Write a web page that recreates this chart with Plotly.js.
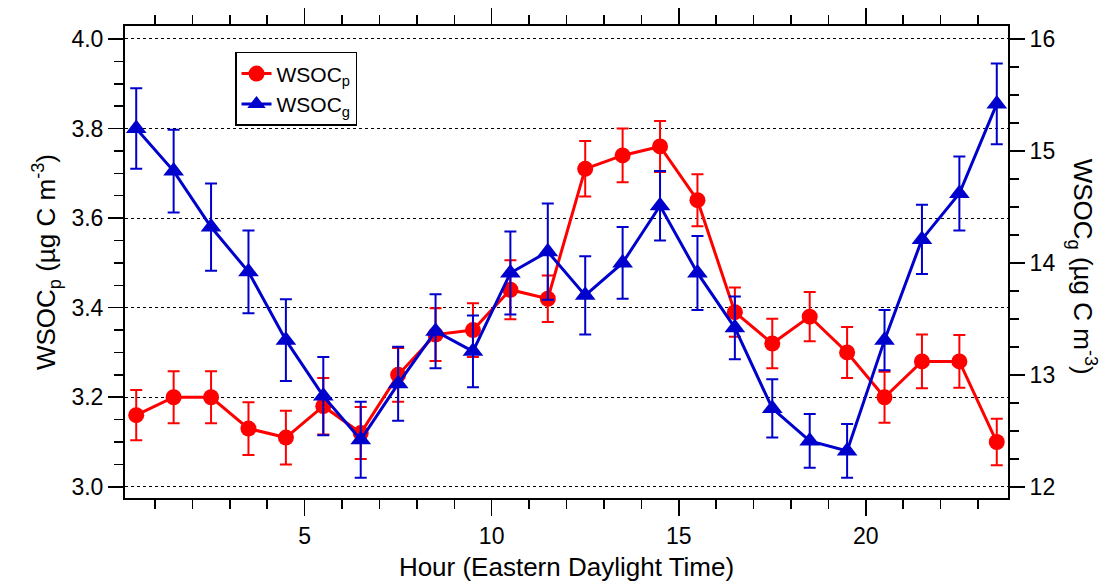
<!DOCTYPE html>
<html>
<head>
<meta charset="utf-8">
<script src="https://cdn.plot.ly/plotly-3.0.1.min.js"></script>
<style>html,body{margin:0;padding:0;background:#fff;}#chart{width:1109px;height:587px;}</style>
</head>
<body>
<div id="chart"></div>
<script>
const hours = [0.5,1.5,2.5,3.5,4.5,5.5,6.5,7.5,8.5,9.5,10.5,11.5,12.5,13.5,14.5,15.5,16.5,17.5,18.5,19.5,20.5,21.5,22.5,23.5];
const wsocP = [3.16,3.20,3.20,3.13,3.11,3.18,3.12,3.25,3.34,3.35,3.44,3.42,3.71,3.74,3.76,3.64,3.39,3.32,3.38,3.30,3.20,3.28,3.28,3.10];
const wsocPErr = [0.056,0.058,0.058,0.059,0.060,0.063,0.058,0.060,0.059,0.060,0.066,0.052,0.062,0.060,0.057,0.058,0.055,0.055,0.055,0.057,0.057,0.060,0.059,0.052];
const wsocG = [15.20,14.82,14.32,13.92,13.31,12.81,12.42,12.92,13.39,13.21,13.91,14.10,13.71,14.00,14.51,13.91,13.42,12.70,12.41,12.32,13.31,14.21,14.62,15.42];
const wsocGErr = [0.36,0.37,0.39,0.37,0.365,0.35,0.34,0.33,0.33,0.32,0.37,0.43,0.35,0.32,0.31,0.33,0.28,0.26,0.24,0.24,0.27,0.31,0.33,0.36];
const xTicks = [5,10,15,20];
const leftTicks = [3.0,3.2,3.4,3.6,3.8,4.0];
const rightTicks = [12,13,14,15,16];

const red = '#FF0000', blue = '#0000CC';
const FONT = 'Liberation Sans, Arial, sans-serif';

const traces = [
  {x: hours, y: wsocP, type: 'scatter', mode: 'lines+markers', name: 'WSOC<sub>p</sub>',
   line: {color: red, width: 3}, marker: {symbol: 'circle', size: 16, color: red},
   error_y: {type: 'data', array: wsocPErr, visible: true, color: red, thickness: 2, width: 6},
   yaxis: 'y'},
  {x: hours, y: wsocG, type: 'scatter', mode: 'lines+markers', name: 'WSOC<sub>g</sub>',
   line: {color: blue, width: 3}, marker: {symbol: 'triangle-up', size: 18, color: blue},
   error_y: {type: 'data', array: wsocGErr, visible: true, color: blue, thickness: 2, width: 6},
   yaxis: 'y2'}
];

const tickFont = {family: FONT, size: 23, color: '#000'};
const titleFont = {family: FONT, size: 26, color: '#000'};
const layout = {
  width: 1109, height: 587,
  margin: {l: 125, r: 101, t: 26, b: 89},
  paper_bgcolor: '#fff', plot_bgcolor: '#fff',
  font: {family: FONT, color: '#000'},
  showlegend: true,
  legend: {x: 0.1246, y: 0.945, xanchor: 'left', yanchor: 'top',
           bgcolor: '#fff', bordercolor: '#000', borderwidth: 1.5,
           font: {family: FONT, size: 21, color: '#000'},
           tracegroupgap: 2, itemwidth: 30},
  xaxis: {range: [0.2, 23.8], tickvals: xTicks, ticktext: xTicks.map(String),
          ticks: 'outside', ticklen: 16, tickwidth: 1.5, tickcolor: '#000',
          minor: {dtick: 1, tick0: 0, ticks: 'outside', ticklen: 9, tickwidth: 1.5, tickcolor: '#000'},
          showline: true, linecolor: '#000', linewidth: 2, mirror: 'ticks',
          showgrid: false, zeroline: false, tickfont: tickFont,
          title: {text: 'Hour (Eastern Daylight Time)', font: titleFont, standoff: 10}},
  yaxis: {range: [2.975, 4.029], tickvals: leftTicks, ticktext: leftTicks.map(v => v.toFixed(1)),
          ticks: 'outside', ticklen: 15, tickwidth: 1.5, tickcolor: '#000',
          minor: {dtick: 0.05, tick0: 0, ticks: 'outside', ticklen: 9, tickwidth: 1.5, tickcolor: '#000', showgrid: false},
          showline: true, linecolor: '#000', linewidth: 2,
          showgrid: true, gridcolor: '#000', gridwidth: 1, griddash: 'dot',
          zeroline: false, tickfont: tickFont,
          title: {text: 'WSOC<sub>p</sub> (µg C m<sup>-3</sup>)', font: titleFont, standoff: 8}},
  yaxis2: {range: [11.9, 16.116], overlaying: 'y', side: 'right', tickvals: rightTicks, ticktext: rightTicks.map(String),
          ticks: 'outside', ticklen: 15, tickwidth: 1.5, tickcolor: '#000',
          minor: {dtick: 0.25, tick0: 0, ticks: 'outside', ticklen: 9, tickwidth: 1.5, tickcolor: '#000', showgrid: false},
          showline: true, linecolor: '#000', linewidth: 2,
          showgrid: false, zeroline: false, tickfont: tickFont},
  annotations: [
    {text: 'WSOC<sub>g</sub> (µg C m<sup>-3</sup>)', xref: 'paper', yref: 'paper', x: 1.085, y: 0.49,
     xanchor: 'center', yanchor: 'middle', textangle: 90, showarrow: false,
     font: titleFont}
  ]
};

Plotly.newPlot('chart', traces, layout, {displayModeBar: false, staticPlot: true});
</script>
</body>
</html>
